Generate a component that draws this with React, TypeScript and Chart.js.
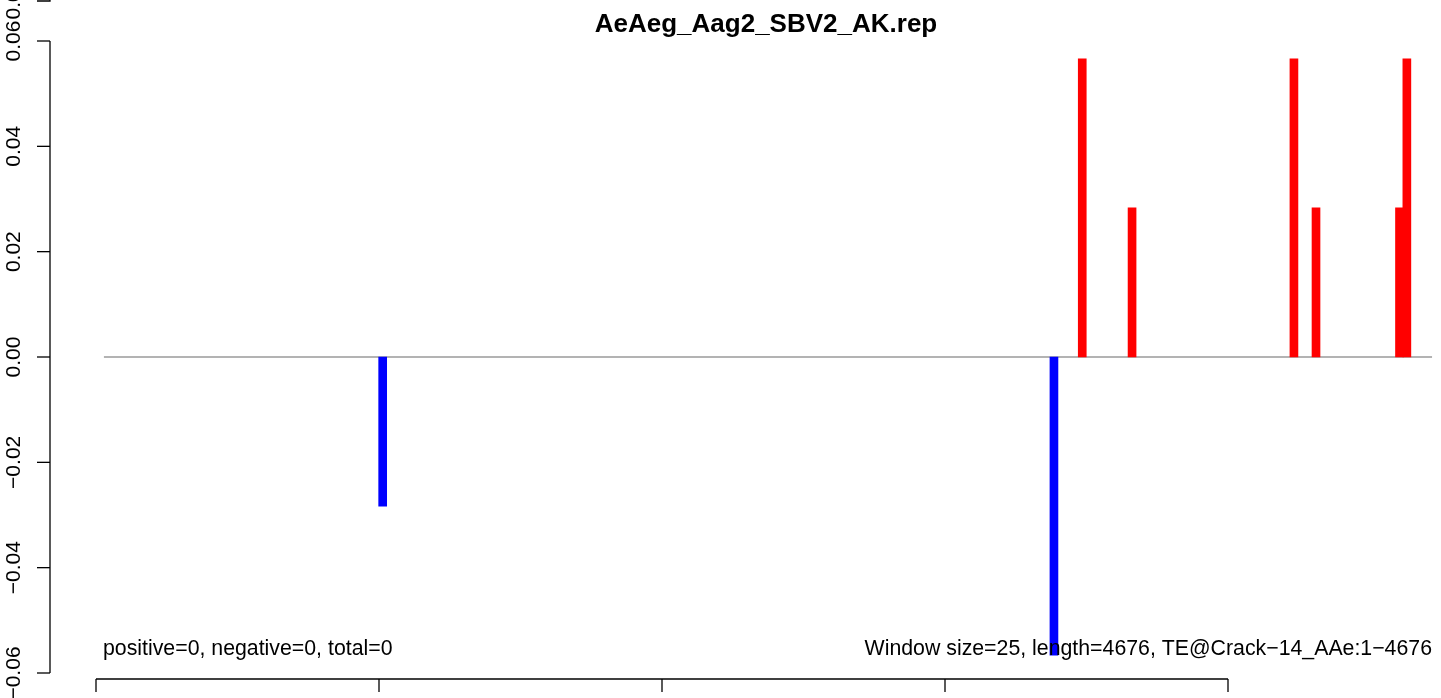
import React, { useEffect, useRef } from "react";
import { Chart, registerables } from "chart.js";

Chart.register(...registerables);

const titleText = "AeAeg_Aag2_SBV2_AK.rep";
const leftNote = "positive=0, negative=0, total=0";
const rightNote = "Window size=25, length=4676, TE@Crack\u221214_AAe:1\u22124676";

const yTickValues = [-0.06, -0.04, -0.02, 0, 0.02, 0.04, 0.06];
const yTickLabels = ["\u22120.06", "\u22120.04", "\u22120.02", "0.00", "0.02", "0.04", "0.06"];
const xTickValues = [0, 1000, 2000, 3000, 4000];

const positivePositions = [3485, 3661, 4233, 4311, 4606, 4632];
const positiveValues = [0.0566, 0.0283, 0.0566, 0.0283, 0.0283, 0.0566];
const negativePositions = [1013, 3385];
const negativeValues = [-0.0283, -0.0566];
const baselinePositions = [28, 4721];
const baselineValues = [0, 0];

const FONT = '"Liberation Sans", Arial, Helvetica, sans-serif';

const axesPlugin = {
  id: "rAxes",
  afterDraw(chart: any) {
    const ctx = chart.ctx;
    const xs = chart.scales.x;
    const ys = chart.scales.y;
    ctx.save();
    ctx.strokeStyle = "#000";
    ctx.fillStyle = "#000";
    ctx.lineWidth = 1.3;

    // y axis
    const axX = 50;
    const yTop = ys.getPixelForValue(0.06);
    const yBot = ys.getPixelForValue(-0.06);
    ctx.beginPath();
    ctx.moveTo(axX, yTop);
    ctx.lineTo(axX, yBot);
    ctx.stroke();
    ctx.font = `21px ${FONT}`;
    ctx.textAlign = "center";
    ctx.textBaseline = "alphabetic";
    yTickValues.forEach((v, i) => {
      const py = ys.getPixelForValue(v);
      ctx.beginPath();
      ctx.moveTo(axX - 13, py);
      ctx.lineTo(axX, py);
      ctx.stroke();
      ctx.save();
      ctx.translate(20, py);
      ctx.rotate(-Math.PI / 2);
      ctx.fillText(yTickLabels[i], 0, 0);
      ctx.restore();
    });

    // remnant of the axis above (cropped)
    const topY = 1;
    ctx.beginPath();
    ctx.moveTo(axX - 13, topY);
    ctx.lineTo(axX, topY);
    ctx.lineTo(axX, -2);
    ctx.stroke();
    ctx.save();
    ctx.translate(20, topY - 2);
    ctx.rotate(-Math.PI / 2);
    ctx.fillText("0.06", 0, 0);
    ctx.restore();

    // x axis
    const axY = 679;
    const x0 = xs.getPixelForValue(xTickValues[0]);
    const x1 = xs.getPixelForValue(xTickValues[xTickValues.length - 1]);
    ctx.beginPath();
    ctx.moveTo(x0, axY);
    ctx.lineTo(x1, axY);
    ctx.stroke();
    xTickValues.forEach((v) => {
      const px = xs.getPixelForValue(v);
      ctx.beginPath();
      ctx.moveTo(px, axY);
      ctx.lineTo(px, axY + 13);
      ctx.stroke();
    });

    // title
    ctx.font = `bold 26px ${FONT}`;
    ctx.textAlign = "center";
    ctx.fillText(titleText, 766, 32);

    // notes
    ctx.font = `21.3px ${FONT}`;
    ctx.textAlign = "left";
    ctx.fillText(leftNote, 103, 655);
    ctx.textAlign = "right";
    ctx.fillText(rightNote, 1432, 655);
    ctx.restore();
  },
};

export default function App() {
  const ref = useRef<HTMLCanvasElement | null>(null);
  useEffect(() => {
    if (!ref.current) return;
    const chart = new Chart(ref.current, {
      type: "bar",
      data: {
        datasets: [
          {
            type: "line",
            data: baselinePositions.map((x, i) => ({ x, y: baselineValues[i] })),
            borderColor: "#9a9a9a",
            borderWidth: 1.6,
            pointRadius: 0,
            order: 3,
          } as any,
          {
            type: "bar",
            data: negativePositions.map((x, i) => ({ x, y: negativeValues[i] })),
            backgroundColor: "#0000ff",
            borderWidth: 0,
            barThickness: 8,
            grouped: false,
            order: 1,
          },
          {
            type: "bar",
            data: positivePositions.map((x, i) => ({ x, y: positiveValues[i] })),
            backgroundColor: "#ff0000",
            borderWidth: 0,
            barThickness: 8,
            grouped: false,
            order: 2,
          },
        ],
      },
      options: {
        animation: false,
        responsive: false,
        layout: { padding: { left: 50, top: 41, right: 0, bottom: 25 } },
        plugins: { legend: { display: false }, tooltip: { enabled: false }, title: { display: false } },
        scales: {
          x: { type: "linear", display: false, offset: false, min: -162.54, max: 4752.65 },
          y: { type: "linear", display: false, min: -0.06, max: 0.06 },
        },
      },
      plugins: [axesPlugin],
    });
    return () => chart.destroy();
  }, []);
  return (
    <div style={{ position: "fixed", left: 0, top: 0, width: 1441, height: 698, background: "#fff" }}>
      <canvas ref={ref} width={1441} height={698} />
    </div>
  );
}
